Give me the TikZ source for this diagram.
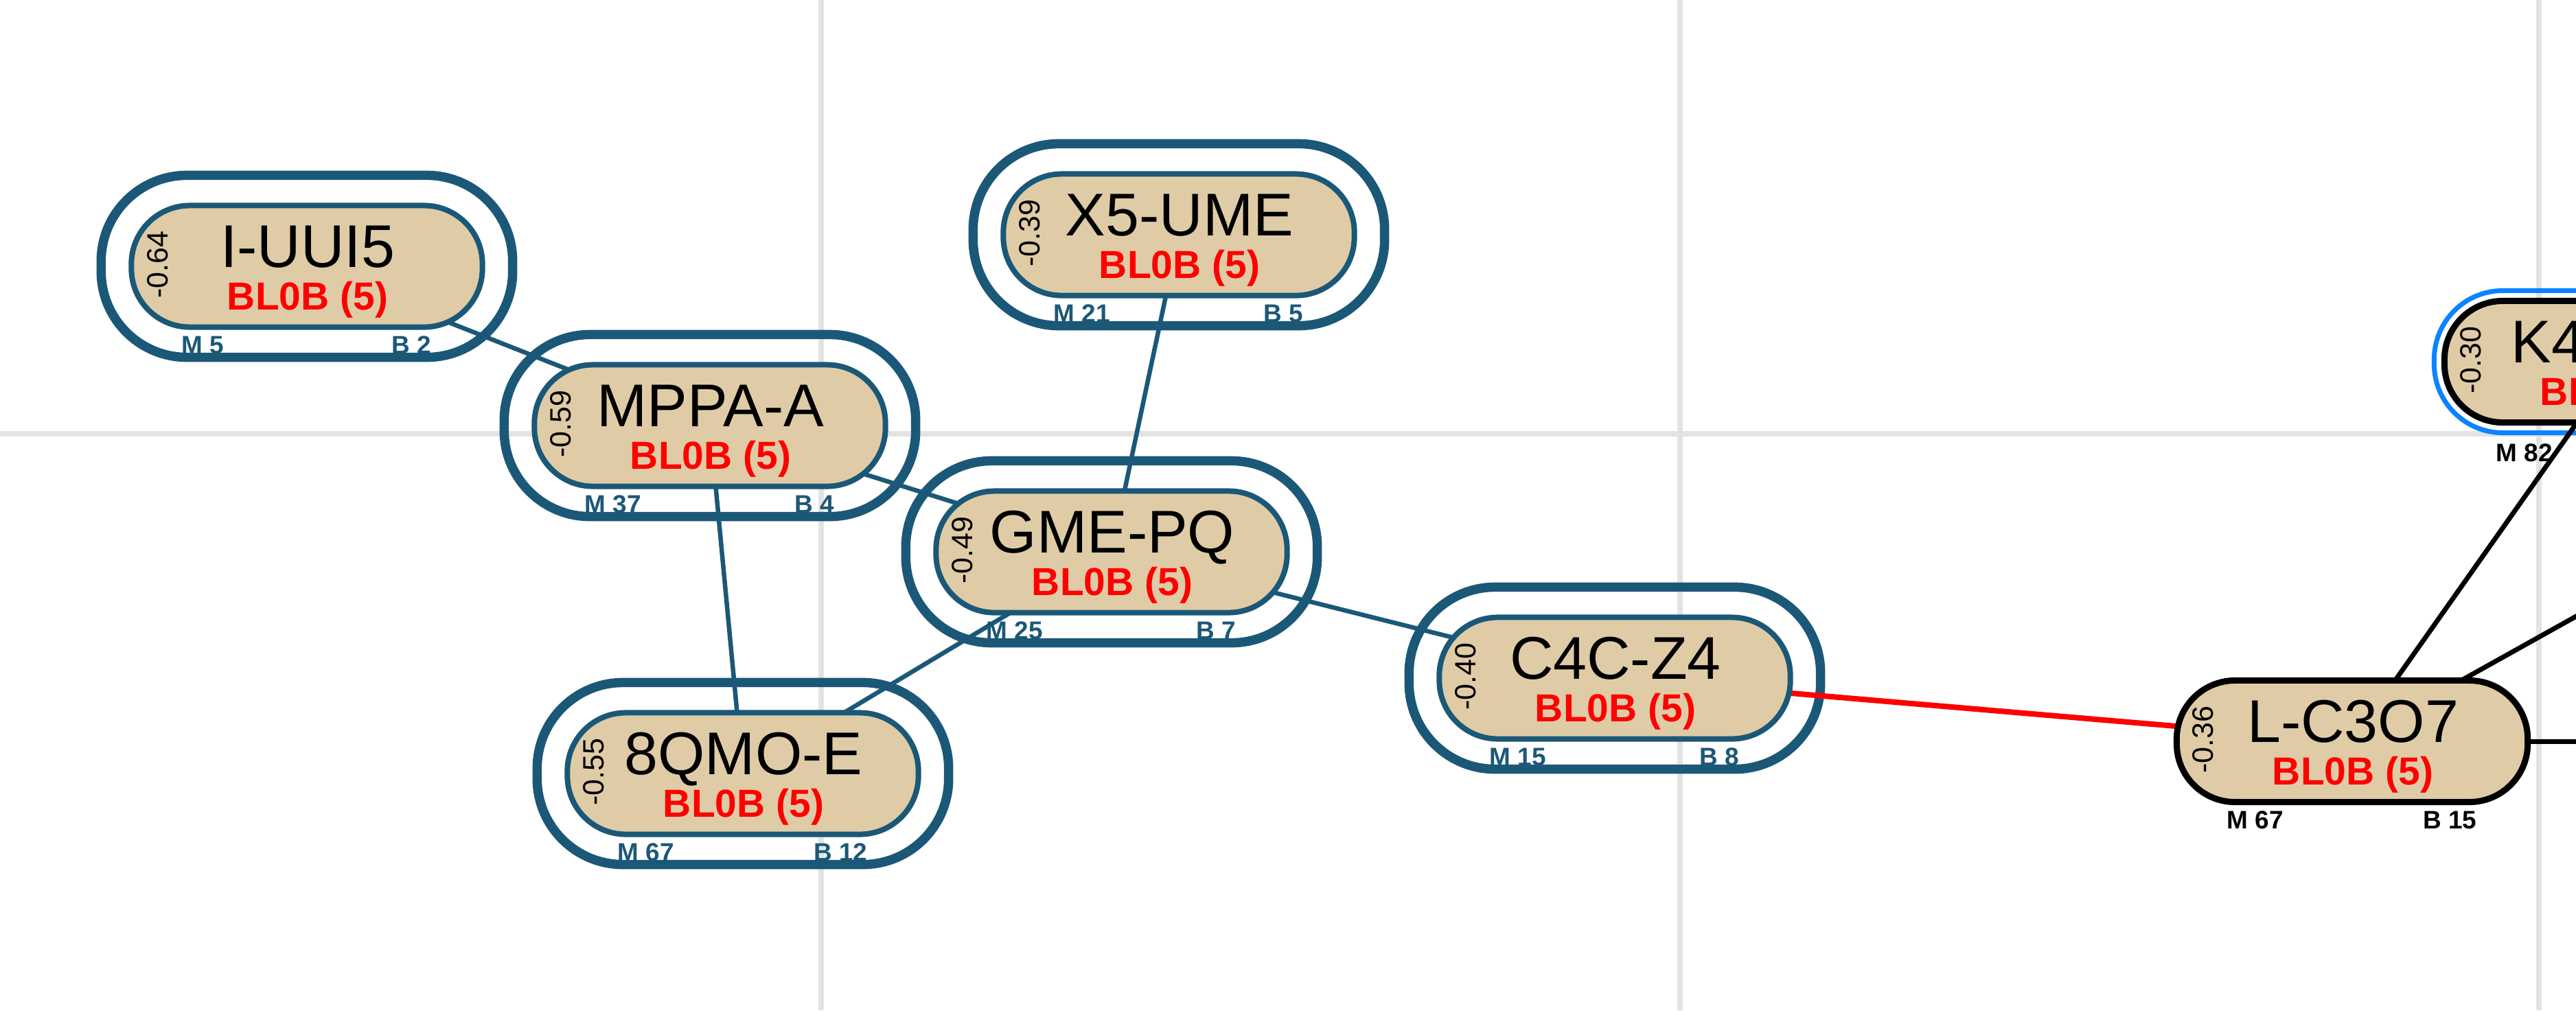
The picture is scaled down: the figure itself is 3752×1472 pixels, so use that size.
\documentclass[tikz,border=0pt]{standalone}
\usepackage{fontspec}
\setmainfont{Liberation Sans}
\pgfdeclarelayer{bg}
\pgfdeclarelayer{edgelayer}
\pgfsetlayers{bg,edgelayer,main}
\definecolor{dkblue}{RGB}{27,88,119}
\definecolor{nodetan}{RGB}{223,204,167}
\definecolor{gridgray}{RGB}{227,227,227}
\definecolor{ringblue}{RGB}{10,132,255}
\tikzset{
  innerbox/.style={rectangle, rounded corners=0.85cm, minimum width=5.11cm, minimum height=1.77cm, inner sep=0pt, fill=nodetan},
  bluenode/.style={innerbox, draw=dkblue, line width=0.08cm},
  blacknode/.style={innerbox, draw=black, line width=0.09cm},
  ringbox/.style={rectangle, rounded corners=1.25cm, minimum width=5.99cm, minimum height=2.65cm, draw=dkblue, line width=0.135cm, inner sep=0pt},
  kringbox/.style={rectangle, rounded corners=1.0cm, minimum width=5.41cm, minimum height=2.07cm, draw=ringblue, line width=0.07cm, inner sep=0pt},
  maintext/.style={anchor=base, inner sep=0pt, font=\fontsize{25}{25}\selectfont},
  redtext/.style={anchor=base, inner sep=0pt, text=red, font=\bfseries\fontsize{16.2}{16.2}\selectfont},
  valtext/.style={anchor=center, inner sep=0pt, rotate=90, font=\fontsize{12.2}{12.2}\selectfont},
  mlab/.style={anchor=base west, inner sep=0pt, font=\bfseries\fontsize{10.5}{10.5}\selectfont},
  blab/.style={anchor=base east, inner sep=0pt, font=\bfseries\fontsize{10.5}{10.5}\selectfont},
  gridline/.style={draw=gridgray, line width=0.08cm},
  bedge/.style={draw=dkblue, line width=0.065cm},
  redge/.style={draw=red, line width=0.08cm},
  kedge/.style={draw=black, line width=0.07cm}
}
\newcommand\blobnode[9]{%
  \node[#8] (#1) at (#2,#3) {};
  \node[maintext] (#1-t) at (#2+1,#3+1) {#4};
  \node[redtext] (#1-r) at (#2+1,#3+63) {BL0B (5)};
  \node[valtext] (#1-v) at (#2-217,#3-2) {#5};
  \node[mlab,text=#9] (#1-m) at (#2-183,#3+127) {M #6};
  \node[blab,text=#9] (#1-b) at (#2+182,#3+127) {B #7};
}
\begin{document}
\begin{tikzpicture}[x=0.01cm,y=-0.01cm]
\useasboundingbox (0,0) rectangle (3752,1472);
\clip (0,0) rectangle (3752,1472);
\begin{pgfonlayer}{bg}
  \fill[white] (0,0) rectangle (3752,1472);
  \draw[gridline] (1196,0) -- (1196,1472);
  \draw[gridline] (2447,0) -- (2447,1472);
  \draw[gridline] (3698,0) -- (3698,1472);
  \draw[gridline] (0,632) -- (3752,632);
  \node[ringbox] (iuui5-o) at (447,388) {};
  \node[ringbox] (mppaa-o) at (1034,620) {};
  \node[ringbox] (x5ume-o) at (1717,342) {};
  \node[ringbox] (gmepq-o) at (1619,804) {};
  \node[ringbox] (qmoe-o) at (1082,1127) {};
  \node[ringbox] (c4cz4-o) at (2352,988) {};
  \node[kringbox] (k4-o) at (3816,527) {};
\end{pgfonlayer}

\blobnode{iuui5}{447}{388}{I-UUI5}{-0.64}{5}{2}{bluenode}{dkblue}
\blobnode{mppaa}{1034}{620}{MPPA-A}{-0.59}{37}{4}{bluenode}{dkblue}
\blobnode{x5ume}{1717}{342}{X5-UME}{-0.39}{21}{5}{bluenode}{dkblue}
\blobnode{gmepq}{1619}{804}{GME-PQ}{-0.49}{25}{7}{bluenode}{dkblue}
\blobnode{qmoe}{1082}{1127}{8QMO-E}{-0.55}{67}{12}{bluenode}{dkblue}
\blobnode{c4cz4}{2352}{988}{C4C-Z4}{-0.40}{15}{8}{bluenode}{dkblue}
\blobnode{lc3o7}{3426}{1080}{L-C3O7}{-0.36}{67}{15}{blacknode}{black}

% partially visible node at the right edge
\node[blacknode] (k4) at (3816,527) {};
\node[anchor=base west, inner sep=0pt, font=\fontsize{25}{25}\selectfont] (k4-t) at (3657,528) {K4};
\node[redtext] (k4-r) at (3817,590) {BL0B (5)};
\node[valtext] (k4-v) at (3599,525) {-0.30};
\node[mlab,text=black] (k4-m) at (3635,672) {M 82};

\coordinate (offa) at (4200,1080);
\coordinate (offb) at (4200,648);

\begin{pgfonlayer}{edgelayer}
  \draw[bedge] (iuui5.center) -- (mppaa.center);
  \draw[bedge] (mppaa.center) -- (gmepq.center);
  \draw[bedge] (mppaa.center) -- (qmoe.center);
  \draw[bedge] (x5ume.center) -- (gmepq.center);
  \draw[bedge] (gmepq.center) -- (qmoe.center);
  \draw[bedge] (gmepq.center) -- (c4cz4.center);
  \draw[redge] (c4cz4.center) -- (lc3o7.center);
  \draw[kedge] (lc3o7.center) -- (k4.center);
  \draw[kedge] (lc3o7.center) -- (offa);
  \draw[kedge] (lc3o7.center) -- (offb);
\end{pgfonlayer}
\end{tikzpicture}
\end{document}
